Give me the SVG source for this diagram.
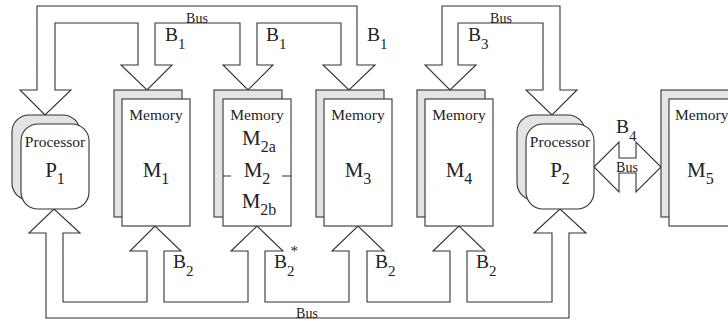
<svg xmlns="http://www.w3.org/2000/svg" width="728" height="321" viewBox="0 0 728 321">
<style>
.ln{fill:none;stroke:#333;stroke-width:1.1;stroke-linejoin:miter}
.bus{fill:#fff;stroke:#333;stroke-width:1.1}
.back{fill:#e4e4e4;stroke:#333;stroke-width:1.1}
.front{fill:#fff;stroke:#333;stroke-width:1.1}
text{font-family:"Liberation Serif","Times New Roman",serif;fill:#222}
.sm{font-size:15.5px}
.bs{font-size:14px}
.big{font-size:21px}
.sub{font-size:16px}
.bl{font-size:19.5px}
.bsub{font-size:15px}
</style>
<rect width="728" height="321" fill="#fff"/>
<g id="connectors">
<path class="bus" d="M37,90 L37,6 L357,6 L357,65 L375,65 L349,90 L323,65 L341,65 L341,23 L257,23 L257,65 L273,65 L248,90 L223,65 L240,65 L240,23 L155,23 L155,65 L172,65 L147,90 L121,65 L138,65 L138,23 L55,23 L55,90 L71,90 L45,115 L20,90 Z"/>
<path class="bus" d="M442,65 L442,6 L560,6 L560,90 L577,90 L552,115 L526,90 L543,90 L543,23 L458,23 L458,65 L476,65 L450,90 L425,65 Z"/>
<path class="bus" d="M46,233 L46,318 L569,318 L569,233 L586,233 L560,209 L534,233 L552,233 L552,302 L467,302 L467,251 L485,251 L459,226 L433,251 L450,251 L450,302 L367,302 L367,251 L384,251 L358,226 L332,251 L349,251 L349,302 L265,302 L265,251 L283,251 L257,226 L231,251 L248,251 L248,302 L164,302 L164,251 L181,251 L155,226 L130,251 L147,251 L147,302 L63,302 L63,233 L80,233 L54,209 L29,233 Z"/>
<path class="bus" d="M594,167 L619,142 L619,158 L636,158 L636,142 L661,167 L636,192 L636,173 L619,173 L619,192 Z"/>
<text class="bs" x="197" y="23" text-anchor="middle">Bus</text>
<text class="bs" x="501" y="23" text-anchor="middle">Bus</text>
<text class="bs" x="307" y="318" text-anchor="middle">Bus</text>
<text class="bs" x="627" y="172" text-anchor="middle">Bus</text>
<text class="bl" x="165" y="41">B<tspan class="bsub" dy="8">1</tspan></text>
<text class="bl" x="266" y="41">B<tspan class="bsub" dy="8">1</tspan></text>
<text class="bl" x="367" y="41">B<tspan class="bsub" dy="8">1</tspan></text>
<text class="bl" x="468" y="41">B<tspan class="bsub" dy="8">3</tspan></text>
<text class="bl" x="616" y="133">B<tspan class="bsub" dy="8">4</tspan></text>
<text class="bl" x="173" y="268">B<tspan class="bsub" dy="8">2</tspan></text>
<text class="bl" x="274" y="268">B<tspan class="bsub" dy="8">2</tspan><tspan class="bsub" dx="-4" dy="-20">*</tspan></text>
<text class="bl" x="375" y="268">B<tspan class="bsub" dy="8">2</tspan></text>
<text class="bl" x="476" y="268">B<tspan class="bsub" dy="8">2</tspan></text>
</g>
<g id="P1">
<rect class="back" x="12" y="115" width="68" height="85" rx="17"/>
<rect class="front" x="21" y="124" width="68" height="85" rx="17"/>
<text class="sm" x="55" y="147" text-anchor="middle">Processor</text>
<text class="big" x="55" y="177" text-anchor="middle">P<tspan class="sub" dy="7">1</tspan></text>
</g>
<g id="M1">
<rect class="back" x="114" y="90" width="68" height="127"/>
<rect class="front" x="122" y="99" width="68" height="127"/>
<text class="sm" x="156" y="120" text-anchor="middle">Memory</text>
<text class="big" x="156" y="177" text-anchor="middle">M<tspan class="sub" dy="7">1</tspan></text>
</g>
<g id="M2">
<rect class="back" x="214" y="90" width="68" height="127"/>
<rect class="front" x="223" y="99" width="68" height="127"/>
<text class="sm" x="257" y="120" text-anchor="middle">Memory</text>
<text class="big" x="259" y="145" text-anchor="middle">M<tspan class="sub" dy="7">2a</tspan></text>
<text class="big" x="257" y="177" text-anchor="middle">M<tspan class="sub" dy="7">2</tspan></text>
<text class="big" x="259" y="208" text-anchor="middle">M<tspan class="sub" dy="7">2b</tspan></text>
<path class="ln" d="M223,176 H231 M282,176 H291"/>
</g>
<g id="M3">
<rect class="back" x="316" y="90" width="68" height="127"/>
<rect class="front" x="324" y="99" width="68" height="127"/>
<text class="sm" x="358" y="120" text-anchor="middle">Memory</text>
<text class="big" x="358" y="177" text-anchor="middle">M<tspan class="sub" dy="7">3</tspan></text>
</g>
<g id="M4">
<rect class="back" x="417" y="90" width="68" height="127"/>
<rect class="front" x="425" y="99" width="68" height="127"/>
<text class="sm" x="459" y="120" text-anchor="middle">Memory</text>
<text class="big" x="459" y="177" text-anchor="middle">M<tspan class="sub" dy="7">4</tspan></text>
</g>
<g id="P2">
<rect class="back" x="517" y="115" width="68" height="85" rx="17"/>
<rect class="front" x="526" y="124" width="68" height="85" rx="17"/>
<text class="sm" x="560" y="147" text-anchor="middle">Processor</text>
<text class="big" x="560" y="177" text-anchor="middle">P<tspan class="sub" dy="7">2</tspan></text>
</g>
<g id="M5">
<rect class="back" x="661" y="90" width="68" height="127"/>
<rect class="front" x="669" y="99" width="68" height="127"/>
<text class="sm" x="675" y="120">Memory</text>
<text class="big" x="687" y="177">M<tspan class="sub" dy="7">5</tspan></text>
</g>
</svg>
